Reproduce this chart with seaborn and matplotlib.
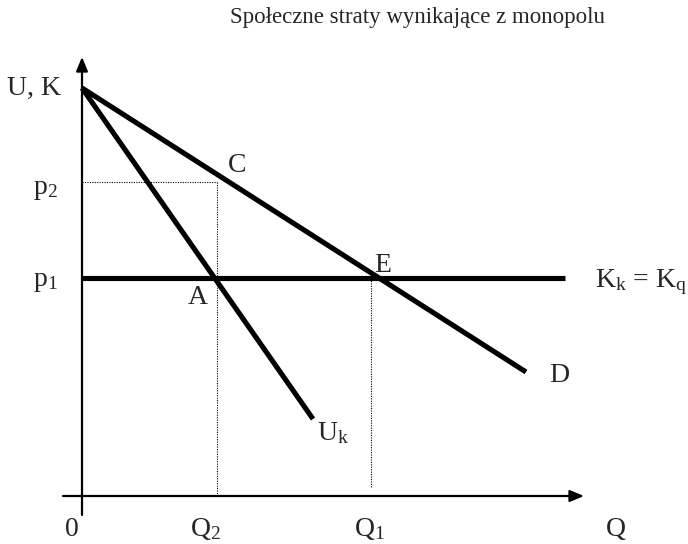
import matplotlib
matplotlib.use("Agg")
import matplotlib.pyplot as plt
import seaborn as sns
import pandas as pd

sns.set_theme(style="white")
plt.rcParams['font.family'] = ['Liberation Serif', 'DejaVu Serif']
plt.rcParams['mathtext.fontset'] = 'custom'
plt.rcParams['mathtext.rm'] = 'Liberation Serif'
plt.rcParams['mathtext.it'] = 'Liberation Serif:italic'

# Data (diagram units)
title = "Społeczne straty wynikające z monopolu"
d_q = [0, 444]          # demand line D
d_p = [408, 124]
uk_q = [0, 231]         # marginal revenue line U_k
uk_p = [408, 77]
p1 = 218                # K_k = K_q level
p2 = 314
Q2 = 135
Q1 = 289
cost_q = [0, 483]
cost_p = [p1, p1]

fig = plt.figure(figsize=(6.88, 5.44), dpi=100)
ax = fig.add_axes([0, 0, 1, 1])

lw = 3.7
df_d = pd.DataFrame({"Q": d_q, "P": d_p})
df_uk = pd.DataFrame({"Q": uk_q, "P": uk_p})
df_c = pd.DataFrame({"Q": cost_q, "P": cost_p})
sns.lineplot(data=df_d, x="Q", y="P", ax=ax, color="black", lw=lw, solid_capstyle="butt")
sns.lineplot(data=df_uk, x="Q", y="P", ax=ax, color="black", lw=lw, solid_capstyle="butt")
sns.lineplot(data=df_c, x="Q", y="P", ax=ax, color="black", lw=lw, solid_capstyle="butt")
ax.set_xlim(-82, 606)
ax.set_ylim(-48, 496)
ax.axis('off')

# dotted guides
dot = (0, (1, 1.2))
ax.plot([0, Q2], [p2, p2], color="black", lw=0.8, ls=dot)
ax.plot([Q2, Q2], [p2, 0], color="black", lw=0.8, ls=dot)
ax.plot([Q1, Q1], [p1, 8], color="black", lw=0.8, ls=dot)

# axes with arrows
arrow = dict(arrowstyle="-|>,head_length=0.6,head_width=0.25", color="black",
             lw=1.6, mutation_scale=14, shrinkA=0, shrinkB=0)
ax.annotate("", xy=(502, 0), xytext=(-19, 0), arrowprops=arrow)
ax.annotate("", xy=(0, 439), xytext=(0, -19), arrowprops=arrow)

fs = 20
ax.text(336, 478, title, ha="center", va="center", fontsize=16.5)
ax.text(-75, 408, "U, K", ha="left", va="center", fontsize=fs)
ax.text(-37, 306, r"p$_{\mathrm{2}}$", ha="center", va="center", fontsize=fs)
ax.text(-37, 214, r"p$_{\mathrm{1}}$", ha="center", va="center", fontsize=fs)
ax.text(-10, -33, "0", ha="center", va="center", fontsize=fs)
ax.text(124, -33, r"Q$_{\mathrm{2}}$", ha="center", va="center", fontsize=fs)
ax.text(287, -33, r"Q$_{\mathrm{1}}$", ha="center", va="center", fontsize=fs)
ax.text(534, -33, "Q", ha="center", va="center", fontsize=fs)
ax.text(155, 331, "C", ha="center", va="center", fontsize=fs)
ax.text(116, 199, "A", ha="center", va="center", fontsize=fs)
ax.text(301, 231, "E", ha="center", va="center", fontsize=fs)
ax.text(251, 63, r"U$_{\mathrm{k}}$", ha="center", va="center", fontsize=fs)
ax.text(477, 121, "D", ha="center", va="center", fontsize=fs)
ax.text(513, 214, r"K$_{\mathrm{k}}$ = K$_{\mathrm{q}}$", ha="left", va="center", fontsize=fs)

fig.savefig("out.png", dpi=100)
